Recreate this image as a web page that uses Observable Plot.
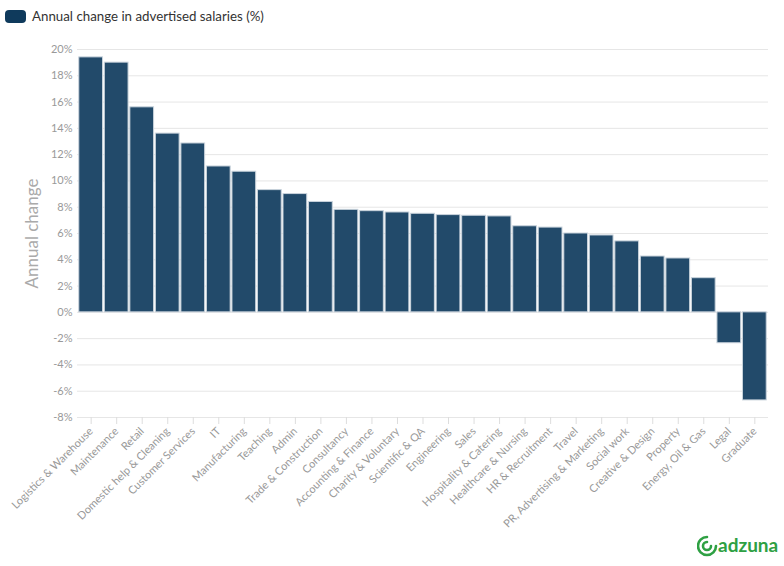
<!DOCTYPE html>
<html>
<head>
<meta charset="utf-8">
<script src="https://cdn.jsdelivr.net/npm/d3@7"></script>
<script src="https://cdn.jsdelivr.net/npm/@observablehq/plot@0.6"></script>
<style>
  body { margin: 0; background: #fff; font-family: Lato, "Open Sans", sans-serif; }
  #wrap { position: relative; width: 784px; height: 566px; }
  #legend { position: absolute; left: 5px; top: 8px; display: flex; align-items: center; font-size: 13.3px; color: #333; }
  #legend .sw { width: 21px; height: 13px; border-radius: 4px; background: #0f3a5c; margin-right: 6px; }
  #logo { position: absolute; left: 697px; top: 534px; }
</style>
</head>
<body>
<div id="wrap">
  <div id="chart"></div>
  <div id="legend"><div class="sw"></div><span>Annual change in advertised salaries (%)</span></div>
  <svg id="logo" width="84" height="24" viewBox="0 0 84 24">
    <path d="M10 3 A9 9 0 1 0 19 12" fill="none" stroke="#2ea043" stroke-width="2.6" stroke-linecap="round"/>
    <path d="M10 8 A4 4 0 1 0 14 12" fill="none" stroke="#2ea043" stroke-width="2.6" stroke-linecap="round"/>
    <text x="21" y="18" font-family="Lato, sans-serif" font-weight="700" font-size="19" fill="#2ea043">adzuna</text>
  </svg>
</div>
<script>
const categories = ["Logistics & Warehouse","Maintenance","Retail","Domestic help & Cleaning","Customer Services","IT","Manufacturing","Teaching","Admin","Trade & Construction","Consultancy","Accounting & Finance","Charity & Voluntary","Scientific & QA","Engineering","Sales","Hospitality & Catering","Healthcare & Nursing","HR & Recruitment","Travel","PR, Advertising & Marketing","Social work","Creative & Design","Property","Energy, Oil & Gas","Legal","Graduate"];
const values = [19.4,19.0,15.6,13.6,12.85,11.1,10.7,9.3,9.0,8.4,7.8,7.7,7.6,7.5,7.4,7.35,7.3,6.55,6.45,6.0,5.85,5.4,4.25,4.1,2.6,-2.35,-6.7];
const yTicks = [-8,-6,-4,-2,0,2,4,6,8,10,12,14,16,18,20];

const data = categories.map((c, i) => ({category: c, value: values[i]}));

const chart = Plot.plot({
  width: 784,
  height: 566,
  marginTop: 49,
  marginBottom: 149,
  marginLeft: 77,
  marginRight: 16,
  style: {fontFamily: "Lato, 'Open Sans', sans-serif", fontSize: "11px", color: "#999"},
  x: {domain: categories, padding: 0.07, round: false, label: null},
  y: {domain: [-8, 20], ticks: yTicks, label: null},
  marks: [
    Plot.gridY(yTicks, {stroke: "#e6e6e6", strokeOpacity: 1}),
    Plot.barY(data, {x: "category", y: "value", fill: "#224a6a", stroke: "#c9d3dc", strokeWidth: 1}),
    Plot.axisY(yTicks, {tickSize: 0, tickPadding: 5, tickFormat: d => d + "%", fill: "#999", fontSize: 11}),
    Plot.axisX({tickSize: 7, tickRotate: -45, tickPadding: 5, stroke: "#ddd", fill: "#999", fontSize: 11, label: null}),
    Plot.text(["Annual change"], {frameAnchor: "left", dx: -45, rotate: -90, textAnchor: "middle", fontSize: 17, fill: "#aaa"})
  ]
});
document.getElementById("chart").appendChild(chart);
</script>
</body>
</html>
